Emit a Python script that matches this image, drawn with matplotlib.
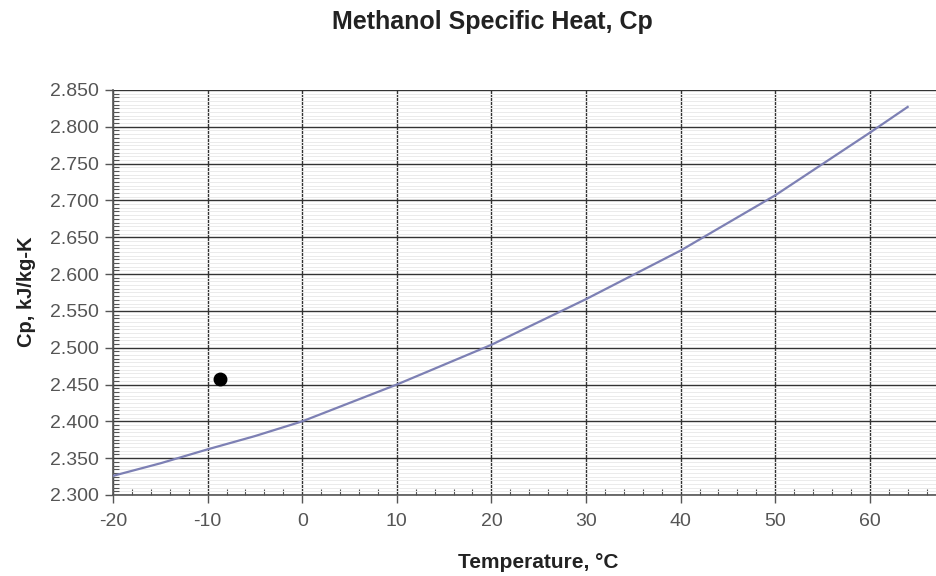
import numpy as np
import matplotlib.pyplot as plt
from matplotlib.ticker import MultipleLocator, FormatStrFormatter

plt.rcParams['font.family'] = ['Liberation Sans', 'DejaVu Sans']
plt.rcParams['axes.unicode_minus'] = False

# values
temp_c = [-20, -15, -10, -5, 0, 10, 20, 30, 40, 50, 60, 64]
cp = [2.326, 2.343, 2.362, 2.380, 2.400, 2.450, 2.504, 2.566, 2.632, 2.707, 2.792, 2.827]

# single measured point
pt_temp = [-8.7]
pt_cp = [2.457]

fig = plt.figure(figsize=(9.37, 5.76), dpi=100)
ax = fig.add_axes([113/937, 1 - 495/576, 1 - 113/937, (495 - 90)/576])

ax.plot(temp_c, cp, '-', color='#7d80b4', lw=1.6, zorder=3)
ax.plot(pt_temp, pt_cp, 'o', color='black', ms=9, zorder=4)

ax.set_xlim(-20, 67.1)
ax.set_ylim(2.300, 2.850)

ax.xaxis.set_major_locator(MultipleLocator(10))
ax.xaxis.set_minor_locator(MultipleLocator(2))
ax.yaxis.set_major_locator(MultipleLocator(0.05))
ax.yaxis.set_minor_locator(MultipleLocator(0.005))
ax.yaxis.set_major_formatter(FormatStrFormatter('%.3f'))

# grid: heavy major lines, faint minor lines in y only
ax.grid(which='major', color='#333333', lw=1.0)
ax.grid(which='minor', axis='y', color='#ebebeb', lw=0.7)
ax.set_axisbelow(True)

for s in ['top', 'right']:
    ax.spines[s].set_visible(False)
for s in ['left', 'bottom']:
    ax.spines[s].set_color('#555555')
    ax.spines[s].set_linewidth(1.2)

ax.tick_params(which='major', direction='out', length=6, width=1.0, color='#555555',
               labelsize=14, labelcolor='#555555')
ax.tick_params(which='minor', direction='in', length=4, width=0.8, color='#555555')
ax.tick_params(axis='x', which='major', pad=7)
ax.tick_params(axis='y', which='major', pad=4)

fig.text(492/937, 1 - 22/576, 'Methanol Specific Heat, Cp', ha='center', va='center',
         fontsize=18, fontweight='bold', color='#222222')
fig.text(538/937, 1 - 562/576, 'Temperature, \u00b0C', ha='center', va='center',
         fontsize=15, fontweight='bold', color='#222222')
fig.text(27/937, 1 - 292/576, 'Cp, kJ/kg-K', ha='center', va='center', rotation=90,
         fontsize=14.5, fontweight='bold', color='#222222')

fig.savefig('out.png', dpi=100)
